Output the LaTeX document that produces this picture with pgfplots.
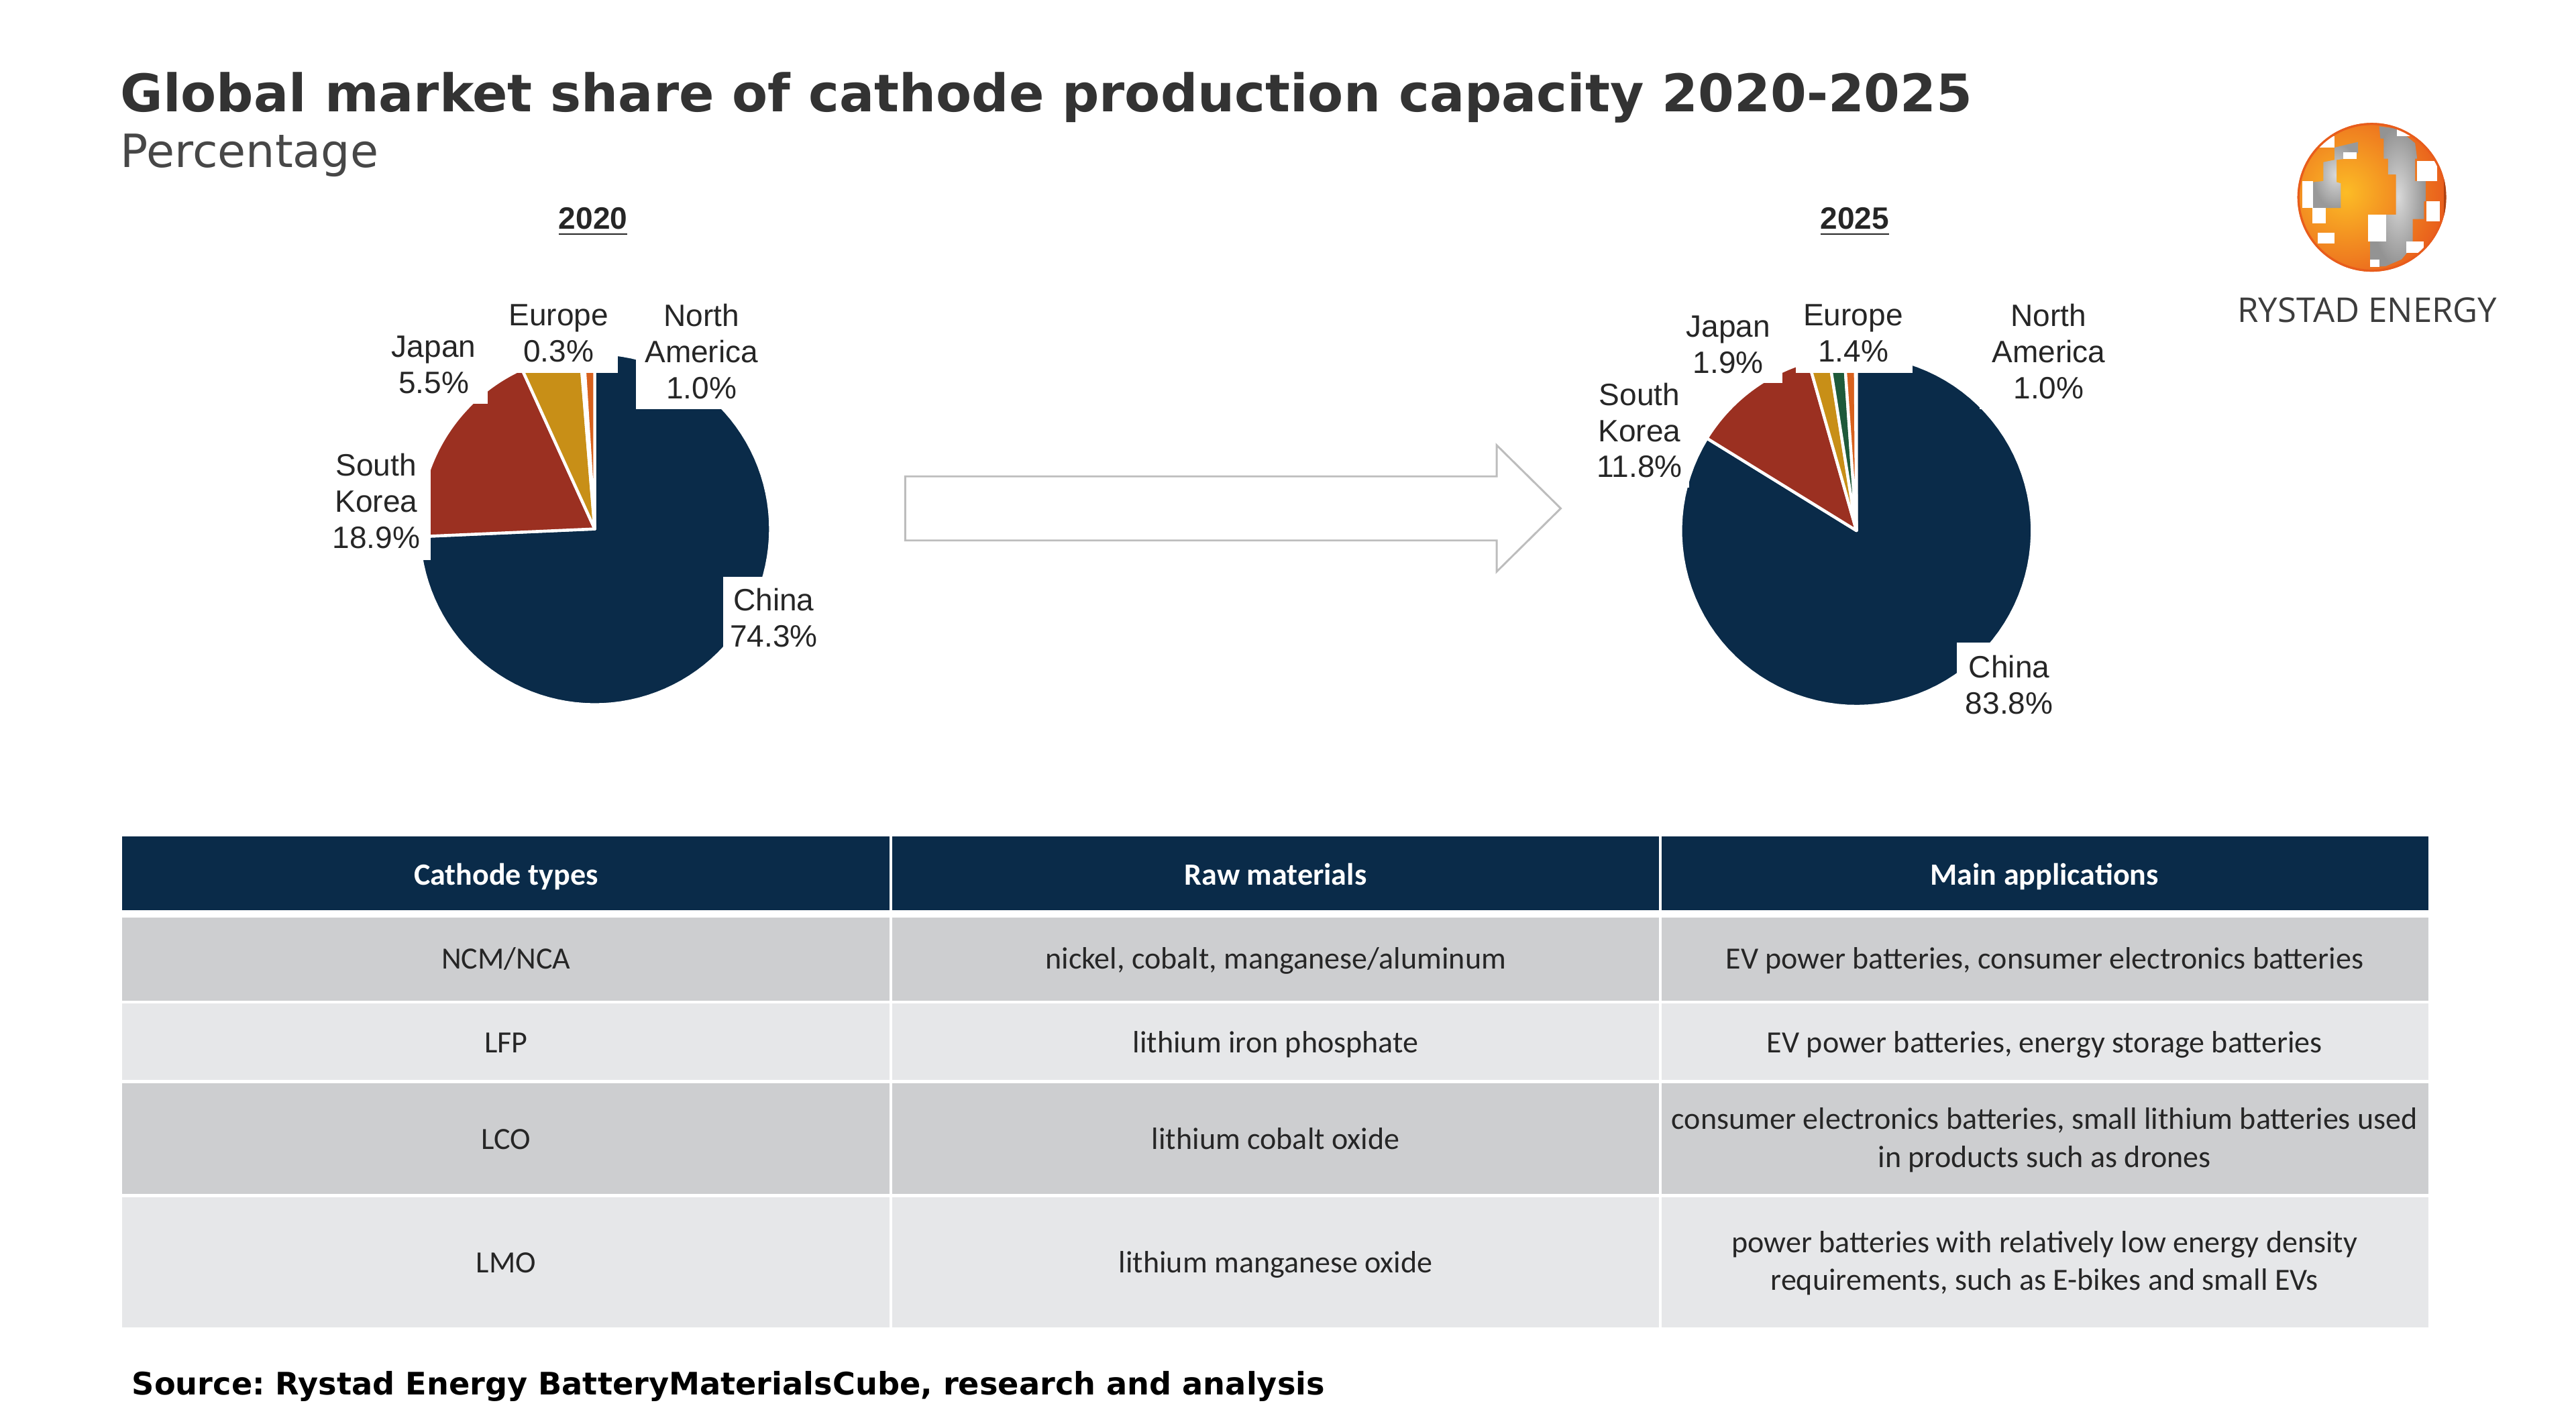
\documentclass[border=0pt]{standalone}
\usepackage{fontspec}
\usepackage{pgfplots}
\pgfplotsset{compat=1.18}
\setmainfont{Liberation Sans}
\newfontfamily\verdana{DejaVu Sans}
\newfontfamily\calibri{Carlito}
\newfontfamily\arial{Liberation Sans}
\newfontfamily\logofont{Open Sans}
\frenchspacing
\definecolor{navy}{HTML}{0A2B49}
\definecolor{rust}{HTML}{9B3021}
\definecolor{gold}{HTML}{C88F17}
\definecolor{egreen}{HTML}{1E5A3A}
\definecolor{naorange}{HTML}{D8611D}
\definecolor{rowdark}{HTML}{CDCED0}
\definecolor{rowlight}{HTML}{E6E7E9}
\definecolor{titlegray}{HTML}{333333}
\definecolor{labelgray}{HTML}{262626}
\definecolor{arrowgray}{HTML}{BDBDBD}
\definecolor{globeA}{RGB}{252,188,38}
\definecolor{globeB}{RGB}{232,92,28}
\definecolor{globeRim}{RGB}{150,55,15}

% pie slice: cx, cy, r, cumulative start (%), share (%), colour
\newcommand{\slice}[6]{%
  \addplot[draw=white, line width=0.9pt, line join=round, fill=#6,
    domain=90-3.6*(#4+#5):90-3.6*(#4), samples=90, variable=\t, forget plot]
    ({#1+#3*cos(\t)},{#2-#3*sin(\t)}) -- (axis cs:#1,#2) -- cycle;}

\newcommand{\plab}[3]{\node[align=center, text=labelgray, inner sep=0pt,
  font=\arial\fontsize{9.4}{11}\selectfont] at (axis cs:#1,#2) {#3};}

\newcommand{\cell}[3]{\node[text=labelgray, inner sep=0pt, text height=1.5ex, text depth=0.4ex,
  font=\calibri\fontsize{9.4}{11.5}\selectfont] at (axis cs:#1,#2) {#3};}
\newcommand{\mcell}[3]{\node[align=center, text=labelgray, inner sep=0pt,
  font=\calibri\fontsize{9.4}{11.5}\selectfont] at (axis cs:#1,#2) {#3};}
\newcommand{\hcell}[3]{\node[text=white, inner sep=0pt, text height=1.5ex, text depth=0.4ex,
  font=\calibri\bfseries\fontsize{9.4}{11.5}\selectfont] at (axis cs:#1,#2) {#3};}

\begin{document}
\begin{tikzpicture}
\begin{axis}[
  width=784pt, height=434.5pt, scale only axis,
  xmin=0, xmax=1568, ymin=0, ymax=869, y dir=reverse,
  hide axis, clip=false]

\fill[white] (axis cs:0,0) rectangle (axis cs:1568,869);

% ---------- pie 2020 ----------
\slice{362}{322}{107}{0}{74.3}{navy}
\slice{362}{322}{107}{74.3}{18.9}{rust}
\slice{362}{322}{107}{93.2}{5.5}{gold}
\slice{362}{322}{107}{98.7}{0.3}{egreen}
\slice{362}{322}{107}{99.0}{1.0}{naorange}

% ---------- pie 2025 ----------
\slice{1130}{323}{107}{0}{83.8}{navy}
\slice{1130}{323}{107}{83.8}{11.8}{rust}
\slice{1130}{323}{107}{95.6}{1.9}{gold}
\slice{1130}{323}{107}{97.5}{1.4}{egreen}
\slice{1130}{323}{107}{98.9}{1.0}{naorange}

% label backgrounds
\fill[white] (axis cs:236,198) rectangle (axis cs:297,246);
\fill[white] (axis cs:196,268) rectangle (axis cs:262,341);
\fill[white] (axis cs:300,178) rectangle (axis cs:376,227);
\fill[white] (axis cs:387,178) rectangle (axis cs:462,249);
\fill[white] (axis cs:440,351) rectangle (axis cs:502,397);
\fill[white] (axis cs:966,226) rectangle (axis cs:1028,297);
\fill[white] (axis cs:1022,186) rectangle (axis cs:1085,233);
\fill[white] (axis cs:1093,178) rectangle (axis cs:1164,227);
\fill[white] (axis cs:1205,178) rectangle (axis cs:1290,249);
\fill[white] (axis cs:1191,391) rectangle (axis cs:1257,440);

% labels 2020
\plab{264}{222}{Japan\\5.5\%}
\plab{229}{305}{South\\Korea\\18.9\%}
\plab{340}{203}{Europe\\0.3\%}
\plab{427}{214}{North\\America\\1.0\%}
\plab{471}{376}{China\\74.3\%}
% labels 2025
\plab{1052}{210}{Japan\\1.9\%}
\plab{998}{262}{South\\Korea\\11.8\%}
\plab{1128}{203}{Europe\\1.4\%}
\plab{1247}{214}{North\\America\\1.0\%}
\plab{1223}{417}{China\\83.8\%}

% year headings
\node[text=labelgray, font=\arial\bfseries\fontsize{9.4}{11}\selectfont] at (axis cs:361,135) {\underline{2020}};
\node[text=labelgray, font=\arial\bfseries\fontsize{9.4}{11}\selectfont] at (axis cs:1129,135) {\underline{2025}};

% arrow
\draw[draw=arrowgray, line width=0.6pt, fill=white, line join=miter]
  (axis cs:551,290) -- (axis cs:911,290) -- (axis cs:911,271) -- (axis cs:950,309.5)
  -- (axis cs:911,348) -- (axis cs:911,329) -- (axis cs:551,329) -- cycle;

% title
\node[anchor=base west, inner sep=0pt, text=titlegray] at (axis cs:73,68)
  {\resizebox{563.5pt}{!}{\verdana\bfseries Global market share of cathode production capacity 2020-2025}};
\node[anchor=base west, inner sep=0pt, text=titlegray!90] at (axis cs:73,102)
  {\resizebox{78.5pt}{!}{\verdana Percentage}};

% logo
\begin{scope}
  \clip (axis cs:1443.7,120.1) circle[radius=22.65pt];
  \shade[inner color=globeA, outer color=globeB] (axis cs:1427.8,117) circle[radius=31pt];
  \shade[inner color=gray!30, outer color=gray!85]
    (axis cs:1448.2,76.9) -- (axis cs:1459.1,78.3) -- (axis cs:1470.0,87.1) -- (axis cs:1471.3,96.6)
    -- (axis cs:1470.0,96.6) -- (axis cs:1470.0,110.2) -- (axis cs:1476.8,110.2) -- (axis cs:1476.8,122.5)
    -- (axis cs:1475.4,122.5) -- (axis cs:1475.4,133.4) -- (axis cs:1468.6,133.4) -- (axis cs:1468.6,149.7)
    -- (axis cs:1461.8,157.9) -- (axis cs:1452.3,162.0) -- (axis cs:1442.7,162.6) -- (axis cs:1442.7,147.0)
    -- (axis cs:1452.3,147.0) -- (axis cs:1452.3,130.7) -- (axis cs:1458.4,130.7) -- (axis cs:1458.4,106.2)
    -- (axis cs:1453.6,106.2) -- (axis cs:1453.6,96.6) -- (axis cs:1450.9,96.6) -- (axis cs:1450.9,84.4)
    -- (axis cs:1448.9,84.4) -- cycle;
  \shade[inner color=gray!30, outer color=gray!80]
    (axis cs:1421.0,89.8) -- (axis cs:1435.3,86.4) -- (axis cs:1435.3,93.2) -- (axis cs:1427.8,94.6)
    -- (axis cs:1427.8,96.6) -- (axis cs:1422.3,97.3) -- (axis cs:1422.3,110.9) -- (axis cs:1424.8,111.6)
    -- (axis cs:1424.8,126.6) -- (axis cs:1408.0,126.6) -- (axis cs:1408.0,110.9) -- (axis cs:1414.2,110.2)
    -- (axis cs:1414.2,98.7) -- (axis cs:1421.0,97.3) -- cycle;
  \fill[white] (axis cs:1401.2,110.2) rectangle (axis cs:1408.0,126.6);
  \fill[white] (axis cs:1407.4,126.6) rectangle (axis cs:1415.5,136.1);
  \fill[white] (axis cs:1410.8,141.5) rectangle (axis cs:1421.0,148.4);
  \fill[white] (axis cs:1408.7,83.0) rectangle (axis cs:1421.0,89.8);
  \fill[white] (axis cs:1426.4,92.6) rectangle (axis cs:1434.6,96.6);
  \fill[white] (axis cs:1441.4,130.7) rectangle (axis cs:1452.3,147.0);
  \fill[white] (axis cs:1471.3,98.0) rectangle (axis cs:1483.6,110.2);
  \fill[white] (axis cs:1476.8,122.5) rectangle (axis cs:1484.9,134.7);
  \fill[white] (axis cs:1464.5,147.0) rectangle (axis cs:1475.4,153.8);
  \fill[white] (axis cs:1442.7,157.9) rectangle (axis cs:1448.2,162.6);
  \fill[white] (axis cs:1459.1,78.9) rectangle (axis cs:1470.0,83.0);
  \draw[line width=1.3pt, draw=globeB] (axis cs:1443.7,120.1) circle[radius=22.65pt];
  \draw[line width=1.6pt, draw=globeRim, opacity=0.7] (axis cs:1489,105) -- (axis cs:1489,140);
\end{scope}
\node[anchor=base, inner sep=0pt, text=titlegray!95] at (axis cs:1441,196)
  {\resizebox{79pt}{!}{\logofont RYSTAD ENERGY}};

% ---------- table ----------
\fill[navy] (axis cs:74.5,509) rectangle (axis cs:541.6,554);
\fill[navy] (axis cs:543,509) rectangle (axis cs:1009.9,554);
\fill[navy] (axis cs:1011.3,509) rectangle (axis cs:1478.2,554);
\fill[rowdark] (axis cs:74.5,558.6) rectangle (axis cs:541.6,609.2);
\fill[rowdark] (axis cs:543,558.6) rectangle (axis cs:1009.9,609.2);
\fill[rowdark] (axis cs:1011.3,558.6) rectangle (axis cs:1478.2,609.2);
\fill[rowlight] (axis cs:74.5,610.7) rectangle (axis cs:541.6,657.6);
\fill[rowlight] (axis cs:543,610.7) rectangle (axis cs:1009.9,657.6);
\fill[rowlight] (axis cs:1011.3,610.7) rectangle (axis cs:1478.2,657.6);
\fill[rowdark] (axis cs:74.5,659.6) rectangle (axis cs:541.6,726.8);
\fill[rowdark] (axis cs:543,659.6) rectangle (axis cs:1009.9,726.8);
\fill[rowdark] (axis cs:1011.3,659.6) rectangle (axis cs:1478.2,726.8);
\fill[rowlight] (axis cs:74.5,728.9) rectangle (axis cs:541.6,808);
\fill[rowlight] (axis cs:543,728.9) rectangle (axis cs:1009.9,808);
\fill[rowlight] (axis cs:1011.3,728.9) rectangle (axis cs:1478.2,808);

\hcell{308}{533}{Cathode types}
\hcell{776.5}{533}{Raw materials}
\hcell{1244.5}{533}{Main applications}

\cell{308}{584}{NCM/NCA}
\cell{776.5}{584}{nickel, cobalt, manganese/aluminum}
\cell{1244.5}{584}{EV power batteries, consumer electronics batteries}
\cell{308}{635}{LFP}
\cell{776.5}{635}{lithium iron phosphate}
\cell{1244.5}{635}{EV power batteries, energy storage batteries}
\cell{308}{694}{LCO}
\cell{776.5}{694}{lithium cobalt oxide}
\mcell{1244.5}{694}{consumer electronics batteries, small lithium batteries used\\in products such as drones}
\cell{308}{769}{LMO}
\cell{776.5}{769}{lithium manganese oxide}
\mcell{1244.5}{769}{power batteries with relatively low energy density\\requirements, such as E-bikes and small EVs}

% source
\node[anchor=base west, inner sep=0pt, text=black] at (axis cs:80,849)
  {\resizebox{363pt}{!}{\verdana\bfseries Source: Rystad Energy BatteryMaterialsCube, research and analysis}};

\end{axis}
\end{tikzpicture}
\end{document}
